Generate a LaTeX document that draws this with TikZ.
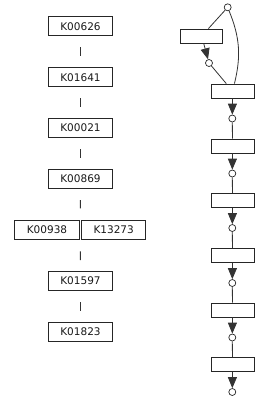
\documentclass[tikz,border=0pt]{standalone}
\usepackage{fontspec}
\setmainfont{DejaVu Sans}
\usetikzlibrary{arrows.meta}

\begin{document}
\begin{tikzpicture}[x=1pt, y=-1pt,
	kobox/.style={draw=black!85, line width=1pt, minimum width=64.5pt, minimum height=19pt, inner sep=0pt, font=\fontsize{10.5}{12}\selectfont, text=black!90},
	tick/.style={draw=black!80, line width=0.9pt, shorten <=11pt, shorten >=11pt},
	trans/.style={draw=black!85, line width=0.9pt, minimum width=42pt, minimum height=14pt, inner sep=0pt, fill=white},
	place/.style={draw=black!85, line width=0.7pt, circle, minimum size=7pt, inner sep=0pt, fill=white},
	arc/.style={draw=black!80, line width=0.8pt},
	flow/.style={arc, -{Triangle[length=11pt, width=9pt]}}
]
	\useasboundingbox (0,0) rectangle (257,400);
	
	% Orthologie-Kette links
	\node[kobox] (k00626) at (80.5,26.2) {K00626};
	\node[kobox] (k01641) at (80.5,77.2) {K01641};
	\node[kobox] (k00021) at (80.5,128.1) {K00021};
	\node[kobox] (k00869) at (80.5,179.1) {K00869};
	\node[kobox] (k00938) at (47,229.8) {K00938};
	\node[kobox] (k13273) at (113.7,229.8) {K13273};
	\node[kobox] (k01597) at (80.5,281) {K01597};
	\node[kobox] (k01823) at (80.5,332) {K01823};
	\coordinate (pairtop) at (80.3,219.3);
	\coordinate (pairbot) at (80.3,240.3);
	
	\draw[tick] (k00626) -- (k01641);
	\draw[tick] (k01641) -- (k00021);
	\draw[tick] (k00021) -- (k00869);
	\draw[tick] (k00869.south) -- (pairtop);
	\draw[tick] (pairbot) -- (k01597.north);
	\draw[tick] (k01597) -- (k01823);
	
	% Petri-Netz rechts
	\node[place] (t0) at (227.7,7.3) {};
	\node[trans] (r0) at (201.7,36) {};
	\node[place] (c0) at (209,63) {};
	\foreach \i/\y in {1/91,2/146,3/200.5,4/255.5,5/310,6/364.5} {
		\node[trans, minimum width=43pt] (r\i) at (232.5,\y) {};
		\node[place] (c\i) at (232.3,\y+27.5) {};
	}
	
	\draw[arc] (t0) -- (r0);
	\draw[flow] (r0) -- (c0);
	\draw[arc] (c0) -- (r1);
	\draw[arc] (t0) to[bend left=18] (r1);
	\foreach \i in {1,...,6} \draw[flow] (r\i) -- (c\i);
	\foreach \i [evaluate=\i as \j using int(\i+1)] in {1,...,5} \draw[arc] (c\i) -- (r\j);
	
\end{tikzpicture}
\end{document}
